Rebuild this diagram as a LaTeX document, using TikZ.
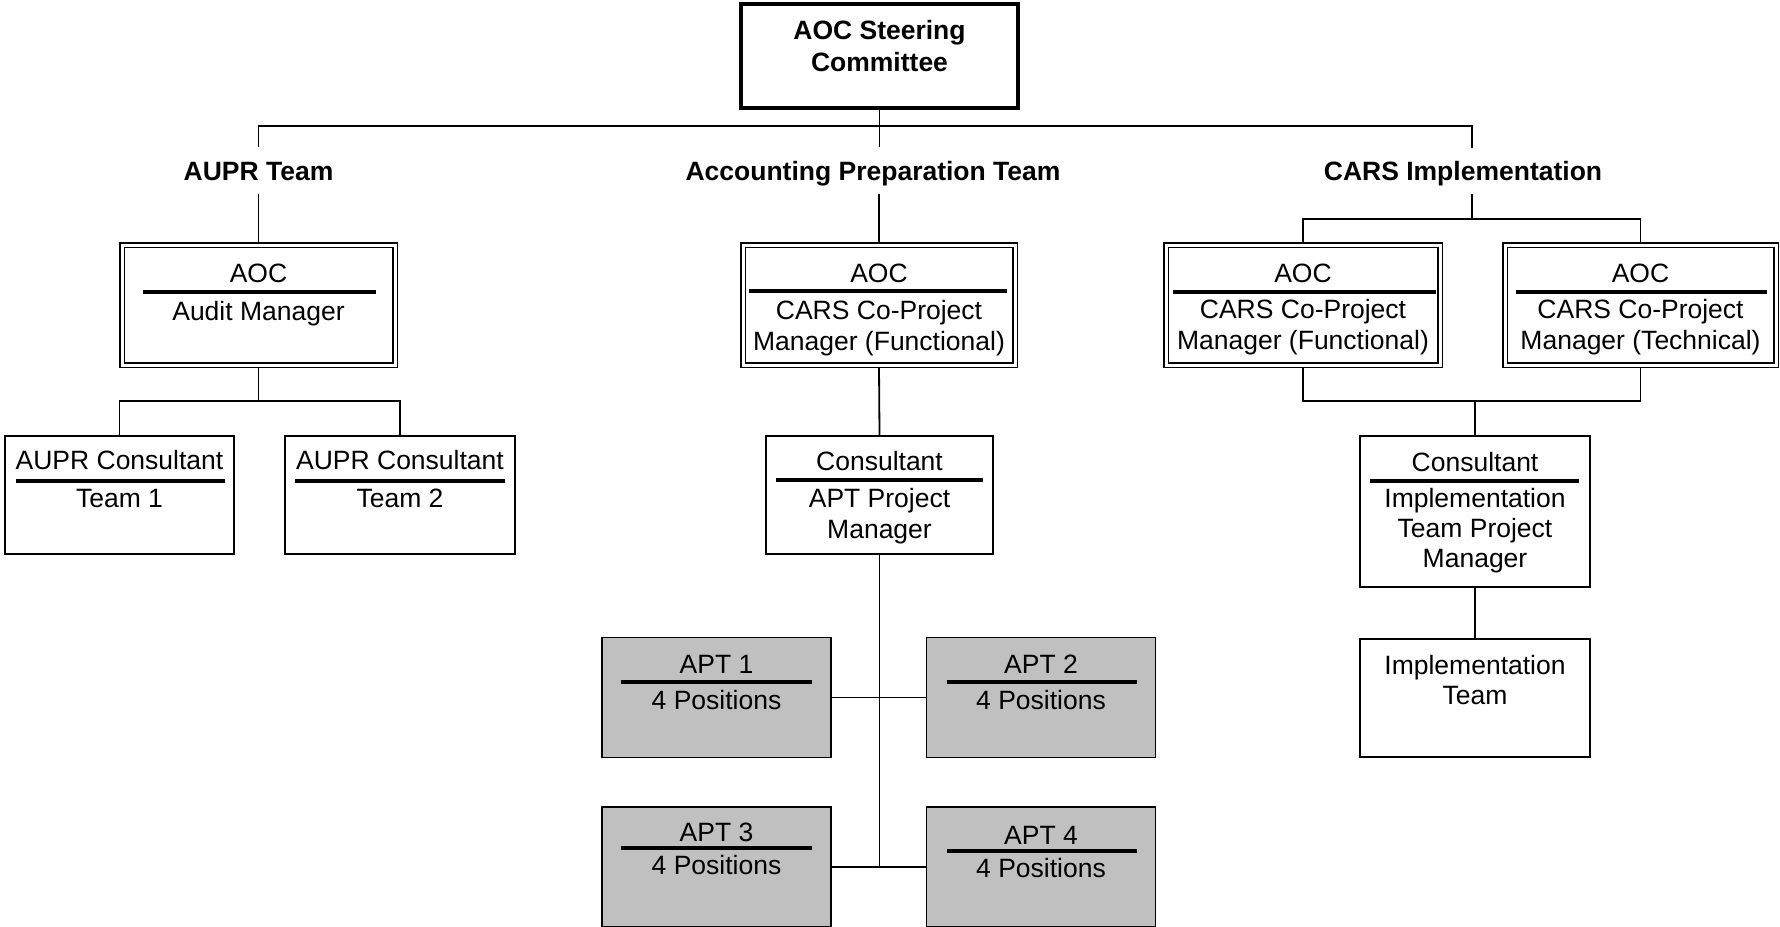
\documentclass[tikz,border=0pt]{standalone}
\usepackage{fontspec}
\setmainfont{Liberation Sans}
\definecolor{aptgray}{HTML}{C0C0C0}

\begin{document}
\begin{tikzpicture}[
  x=0.5pt, y=-0.5pt,
  txt/.style={font=\fontsize{13.25}{15.4}\selectfont, inner sep=0pt, anchor=base, align=center},
  lbl/.style={txt, font=\fontsize{13.25}{15.4}\selectfont\bfseries, text height=16.5pt, text depth=6.5pt},
  box/.style={draw, line width=0.9pt, inner sep=0pt, minimum height=59.1pt},
  aptbox/.style={box, fill=aptgray, minimum width=114.5pt, minimum height=60pt},
  dblbox/.style={draw, line width=0.75pt, double=white, double distance=1.5pt, outer sep=1.5pt,
                 inner sep=0pt, minimum height=60pt},
  topbox/.style={draw, line width=1.8pt, inner sep=0pt, minimum width=138.7pt, minimum height=52.2pt},
  divider/.style={line width=1.7pt},
  link/.style={line width=0.9pt}
]
\path[use as bounding box, fill=white] (0,0) rectangle (1780,926);

\node[topbox] (steer) at (879.5,56) {};
\node[txt, font=\fontsize{13.25}{16}\selectfont\bfseries] (steer-t) at (879.5,71) {AOC Steering\\Committee};

\node[lbl] (auprlbl) at (258.5,180.5) {AUPR Team};
\node[lbl] (acctlbl) at (873,180.5) {Accounting Preparation Team};
\node[lbl] (carslbl) at (1463,180.5) {CARS Implementation};

\node[dblbox, minimum width=136.5pt] (audit) at (258.5,305) {};
\node[txt] (audit-hd) at (258.5,282) {AOC};
\draw[divider] (143,292) -- (376,292);
\node[txt] (audit-bd) at (258.5,320) {Audit Manager};

\node[box, minimum width=114.6pt] (aupr1) at (119.5,495) {};
\node[txt] (aupr1-hd) at (119.5,469) {AUPR Consultant};
\draw[divider] (16,481) -- (225,481);
\node[txt] (aupr1-bd) at (119.5,507) {Team 1};

\node[box, minimum width=115.1pt] (aupr2) at (400,495) {};
\node[txt] (aupr2-hd) at (400,469) {AUPR Consultant};
\draw[divider] (295,481) -- (505,481);
\node[txt] (aupr2-bd) at (400,507) {Team 2};

\node[dblbox, minimum width=136pt] (acctaoc) at (879,305) {};
\node[txt] (acctaoc-hd) at (879,282) {AOC};
\draw[divider] (749,291) -- (1007,291);
\node[txt] (acctaoc-bd) at (879,350) {CARS Co-Project\\Manager (Functional)};

\node[box, minimum width=113.6pt] (consapt) at (879.5,495) {};
\node[txt] (consapt-hd) at (879.5,470) {Consultant};
\draw[divider] (776,480) -- (983,480);
\node[txt] (consapt-bd) at (879.5,538) {APT Project\\Manager};

\node[aptbox] (apt1) at (716.5,697.5) {};
\node[txt] (apt1-hd) at (716.5,673) {APT 1};
\draw[divider] (621,682) -- (812,682);
\node[txt] (apt1-bd) at (716.5,709) {4 Positions};

\node[aptbox] (apt2) at (1041,697.5) {};
\node[txt] (apt2-hd) at (1041,673) {APT 2};
\draw[divider] (947,682) -- (1137,682);
\node[txt] (apt2-bd) at (1041,709) {4 Positions};

\node[aptbox] (apt3) at (716.5,867) {};
\node[txt] (apt3-hd) at (716.5,841) {APT 3};
\draw[divider] (621,848) -- (812,848);
\node[txt] (apt3-bd) at (716.5,874) {4 Positions};

\node[aptbox] (apt4) at (1041,867) {};
\node[txt] (apt4-hd) at (1041,844) {APT 4};
\draw[divider] (947,851) -- (1137,851);
\node[txt] (apt4-bd) at (1041,877) {4 Positions};

\node[dblbox, minimum width=137pt] (carsfunc) at (1303,305) {};
\node[txt] (carsfunc-hd) at (1303,282) {AOC};
\draw[divider] (1173,292) -- (1436,292);
\node[txt] (carsfunc-bd) at (1303,349) {CARS Co-Project\\Manager (Functional)};

\node[dblbox, minimum width=135.5pt] (carstech) at (1640.5,305) {};
\node[txt] (carstech-hd) at (1640.5,282) {AOC};
\draw[divider] (1516,292) -- (1767,292);
\node[txt] (carstech-bd) at (1640.5,349) {CARS Co-Project\\Manager (Technical)};

\node[box, minimum width=115.1pt, minimum height=75.6pt] (consimpl) at (1475,511.5) {};
\node[txt] (consimpl-hd) at (1475,471) {Consultant};
\draw[divider] (1370,481) -- (1579,481);
\node[txt, font=\fontsize{13.25}{15}\selectfont] (consimpl-bd) at (1475,567) {Implementation\\Team Project\\Manager};

\node[box, minimum width=115.1pt] (implteam) at (1475,698) {};
\node[txt, font=\fontsize{13.25}{15}\selectfont] (implteam-bd) at (1475,704) {Implementation\\Team};

\coordinate (topbar) at (879.5,126);
\coordinate (carsdrop) at (1472,147.5);
\coordinate (carsbar) at (1472,219);
\coordinate (auditbar) at (258.5,401);
\coordinate (carsjoin) at (1475,401);

\draw[link] (steer.south) -- (steer.south |- acctlbl.north);
\draw[link] (auprlbl.north) |- (topbar) -| (carsdrop);
\draw[link] (auprlbl.south) -- (audit.north);
\draw[link] (acctlbl.south -| acctaoc.north) -- (acctaoc.north);
\draw[link] (carsdrop |- carslbl.south) -- (carsbar);
\draw[link] (carsfunc.north) |- (carsbar) -| (carstech.north);
\draw[link] (audit.south) -- (auditbar);
\draw[link] (aupr1.north) |- (auditbar) -| (aupr2.north);
\draw[link] (acctaoc.south) -- (consapt.north);
\draw[link] (consapt.south) |- (apt4.west);
\draw[link] (apt1.east) -- (apt2.west);
\draw[link] (apt3.east) -- (apt3.east -| consapt.south);
\draw[link] (carsfunc.south) |- (carsjoin) -| (carstech.south);
\draw[link] (carsjoin) -- (consimpl.north);
\draw[link] (consimpl.south) -- (implteam.north);
\end{tikzpicture}
\end{document}
